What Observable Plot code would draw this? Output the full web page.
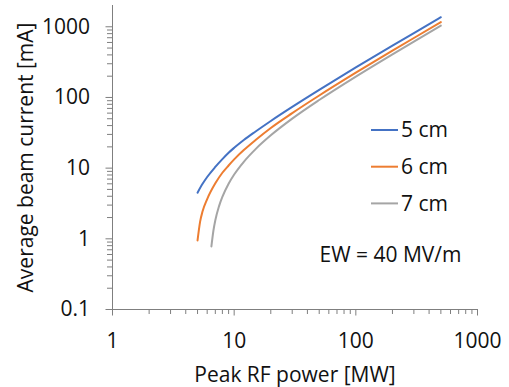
<!DOCTYPE html>
<html>
<head>
<meta charset="utf-8">
<script src="https://cdn.jsdelivr.net/npm/d3@7"></script>
<script src="https://cdn.jsdelivr.net/npm/@observablehq/plot@0.6"></script>
<style>
  html, body { margin: 0; padding: 0; background: #fff; }
  #chart { width: 509px; height: 387px; }
</style>
</head>
<body>
<div id="chart"></div>
<script>
// Series: peak RF power [MW] vs average beam current [mA]
const seriesNames = ["5 cm", "6 cm", "7 cm"];
const seriesColors = ["#4472C4", "#ED7D31", "#A5A5A5"];

const power5cm   = [5, 5.5, 6, 7, 8, 9, 10, 12, 15, 20, 30, 50, 100, 200, 300, 500];
const current5cm = [4.5, 6.0, 7.5, 10.4, 13.4, 16.5, 19.4, 25, 33, 46.5, 73.5, 128, 266, 541, 816, 1366];

const power6cm   = [5, 5.25, 5.5, 6, 7, 8, 9, 10, 12, 15, 20, 30, 50, 100, 200, 300, 500];
const current6cm = [0.95, 1.75, 2.45, 3.65, 6.1, 8.6, 10.9, 13.3, 18, 25, 37, 60, 106.5, 224, 459, 694, 1163];

const power7cm   = [6.5, 6.75, 7, 7.5, 8, 9, 10, 12, 15, 20, 30, 50, 100, 200, 300, 500];
const current7cm = [0.78, 1.3, 1.83, 2.88, 3.93, 6.03, 8.13, 12.3, 18.6, 29.1, 50.1, 92, 197, 407, 617, 1037];

const xMajorTicks = [1, 10, 100, 1000];
const yMajorTicks = [0.1, 1, 10, 100, 1000];
const xMinorTicks = [2,3,4,5,6,7,8,9,20,30,40,50,60,70,80,90,200,300,400,500,600,700,800,900];
const yMinorTicks = [0.2,0.3,0.4,0.5,0.6,0.7,0.8,0.9,2,3,4,5,6,7,8,9,20,30,40,50,60,70,80,90,200,300,400,500,600,700,800,900];

const annotation = "EW = 40 MV/m";

const rows = [];
[[power5cm, current5cm], [power6cm, current6cm], [power7cm, current7cm]].forEach(([p, c], i) => {
  p.forEach((v, j) => rows.push({series: seriesNames[i], power: v, current: c[j]}));
});

const axisGray = "#7f7f7f";
const font = "'Open Sans', Lato, sans-serif";

const chart = Plot.plot({
  width: 509,
  height: 387,
  marginLeft: 112,
  marginRight: 32,
  marginTop: 5,
  marginBottom: 78,
  style: {fontFamily: font, fontSize: "21px", color: "#111", background: "#fff", overflow: "visible"},
  x: {type: "log", domain: [1, 1000]},
  y: {type: "log", domain: [0.1, 2000]},
  color: {domain: seriesNames, range: seriesColors},
  marks: [
    Plot.axisX(xMinorTicks, {tickSize: 5, stroke: axisGray, tickFormat: () => "", label: null}),
    Plot.axisY(yMinorTicks, {tickSize: 5, stroke: axisGray, tickFormat: () => "", label: null}),
    Plot.axisX(xMajorTicks, {
      tickSize: 6.5, tickPadding: 17, stroke: axisGray, fill: "#111",
      tickFormat: d => String(d),
      label: "Peak RF power [MW]", labelAnchor: "center", labelArrow: "none", labelOffset: 72
    }),
    Plot.axisY(yMajorTicks, {
      tickSize: 6.5, tickPadding: 16, stroke: axisGray, fill: "#111",
      tickFormat: d => String(d),
      label: "Average beam current [mA]", labelAnchor: "center", labelArrow: "none", labelOffset: 94
    }),
    Plot.ruleX([1], {stroke: axisGray, strokeWidth: 1}),
    Plot.ruleY([0.1], {stroke: axisGray, strokeWidth: 1}),
    Plot.line(rows, {x: "power", y: "current", z: "series", stroke: "series", strokeWidth: 2, curve: "monotone-x"}),
    Plot.text([annotation], {frameAnchor: "bottom-right", dx: -16, dy: -54, textAnchor: "end", lineAnchor: "middle", fill: "#111"})
  ]
});

// Legend inside the plot area (top-right)
const svg = d3.select(chart);
const lg = svg.append("g").attr("font-family", font).attr("font-size", 21).attr("text-anchor", "start");
seriesNames.forEach((name, i) => {
  const y = 130 + i * 36.7;
  lg.append("line").attr("x1", 371).attr("x2", 398).attr("y1", y).attr("y2", y)
    .attr("stroke", seriesColors[i]).attr("stroke-width", 2);
  lg.append("text").attr("x", 401).attr("y", y).attr("dy", "0.35em").attr("fill", "#111").text(name);
});

document.getElementById("chart").appendChild(chart);
</script>
</body>
</html>
